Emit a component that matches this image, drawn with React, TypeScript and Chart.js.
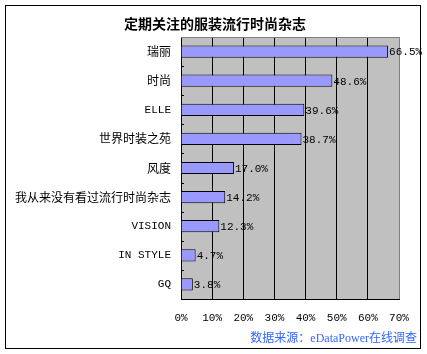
import React, { useEffect, useRef } from "react";
import { Chart, registerables } from "chart.js";

Chart.register(...registerables);

const titleText = "定期关注的服装流行时尚杂志";
const sourceText = "数据来源：eDataPower在线调查";
const categories = ["瑞丽", "时尚", "ELLE", "世界时装之苑", "风度", "我从来没有看过流行时尚杂志", "VISION", "IN STYLE", "GQ"];
const values = [66.5, 48.6, 39.6, 38.7, 17.0, 14.2, 12.3, 4.7, 3.8];
const xTicks = [0, 10, 20, 30, 40, 50, 60, 70];

const CJK = "'Noto Sans CJK SC', sans-serif";
const MONO = "'Liberation Mono', 'Noto Sans CJK SC', monospace";
const SERIF = "'Liberation Serif', 'Noto Sans CJK SC', serif";

const isLatin = (s: string) => /^[\x00-\x7F]*$/.test(s);

const decorPlugin = {
  id: "decor",
  beforeDraw(chart: any) {
    const { ctx, chartArea: a } = chart;
    ctx.save();
    ctx.fillStyle = "#FFFFFF";
    ctx.fillRect(0, 0, chart.width, chart.height);
    ctx.fillStyle = "#C0C0C0";
    ctx.fillRect(a.left, a.top, a.right - a.left, a.bottom - a.top);
    ctx.restore();
  },
  afterDraw(chart: any) {
    const { ctx, chartArea: a } = chart;
    ctx.save();
    // title
    ctx.fillStyle = "#000000";
    ctx.font = "bold 14px " + CJK;
    ctx.textAlign = "center";
    ctx.textBaseline = "middle";
    ctx.fillText(titleText, 215, 24);
    // top border gray
    ctx.strokeStyle = "#808080";
    ctx.lineWidth = 1;
    ctx.beginPath();
    ctx.moveTo(a.left, a.top + 0.5);
    ctx.lineTo(a.right, a.top + 0.5);
    ctx.stroke();
    // y tick marks between categories
    const ys = chart.scales.y;
    ctx.strokeStyle = "#000000";
    ctx.beginPath();
    for (let i = 1; i < categories.length; i++) {
      const y = Math.round((ys.getPixelForValue(i - 1) + ys.getPixelForValue(i)) / 2) + 0.5;
      ctx.moveTo(a.left, y);
      ctx.lineTo(a.left + 3, y);
    }
    ctx.stroke();
    // value labels
    const meta = chart.getDatasetMeta(0);
    ctx.fillStyle = "#000000";
    ctx.font = "11px " + MONO;
    ctx.textAlign = "left";
    ctx.textBaseline = "middle";
    meta.data.forEach((bar: any, i: number) => {
      ctx.fillText(values[i].toFixed(1) + "%", bar.x + 1, bar.y + 1);
    });
    // source
    ctx.fillStyle = "#3366FF";
    ctx.font = "12px " + SERIF;
    ctx.textAlign = "right";
    ctx.fillText(sourceText, 417, 339);
    // outer border
    ctx.strokeStyle = "#000000";
    ctx.lineWidth = 1;
    ctx.strokeRect(5.5, 5.5, 415, 343);
    ctx.restore();
  },
};

export default function App() {
  const ref = useRef<HTMLCanvasElement | null>(null);
  useEffect(() => {
    document.body.style.margin = "0";
    const chart = new Chart(ref.current as HTMLCanvasElement, {
      type: "bar",
      data: {
        labels: categories,
        datasets: [
          {
            data: values,
            backgroundColor: "#9999FF",
            borderColor: "#000000",
            borderWidth: 1,
            barPercentage: 0.42,
            categoryPercentage: 1,
          },
        ],
      },
      options: {
        indexAxis: "y",
        animation: false,
        responsive: false,
        maintainAspectRatio: false,
        layout: { padding: { top: 37, right: 28, bottom: 0, left: 0 } },
        plugins: {
          legend: { display: false },
          tooltip: { enabled: false },
          title: { display: false },
        },
        scales: {
          x: {
            min: 0,
            max: 70,
            afterBuildTicks: (s: any) => {
              s.ticks = xTicks.map((v) => ({ value: v }));
            },
            afterFit: (s: any) => {
              s.height = 55;
            },
            grid: {
              color: (c: any) => (c.index === 7 ? "#808080" : "#000000"),
              drawTicks: false,
              lineWidth: 1,
            },
            border: { color: "#000000" },
            ticks: {
              padding: 12,
              color: "#000000",
              font: { size: 11, family: MONO },
              callback: (v: any) => v + "%",
              maxRotation: 0,
            },
          },
          y: {
            afterFit: (s: any) => {
              s.width = 181;
            },
            grid: { display: false, drawTicks: false },
            border: { color: "#000000", display: true },
            ticks: {
              padding: 10,
              color: "#000000",
              font: (c: any) => {
                const lbl = categories[c.index] || "";
                return isLatin(lbl) ? { size: 11, family: MONO } : { size: 12, family: CJK };
              },
            },
          },
        },
      },
      plugins: [decorPlugin],
    } as any);
    return () => chart.destroy();
  }, []);
  return (
    <div style={{ width: 427, height: 354, position: "relative" }}>
      <canvas ref={ref} width={427} height={354} style={{ display: "block" }} />
    </div>
  );
}
